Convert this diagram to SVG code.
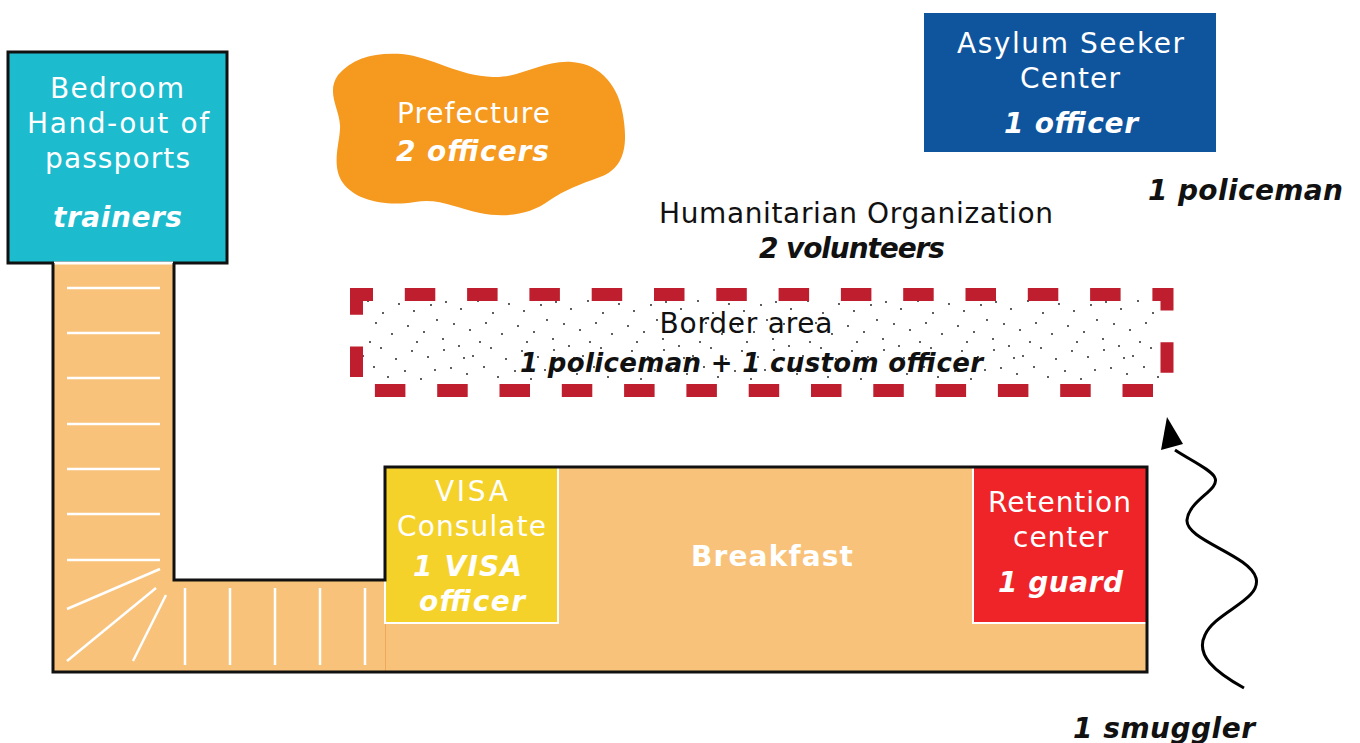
<svg xmlns="http://www.w3.org/2000/svg" width="1360" height="743" viewBox="0 0 1360 743">
<defs>
<style>
.t{font-family:"DejaVu Sans",Verdana,"Liberation Sans",sans-serif;font-size:28px;text-anchor:middle}
.bi{font-weight:bold;font-style:italic}
.bo{font-weight:bold}
.w{fill:#ffffff}
.k{fill:#111111}
.stair{stroke:#ffffff;stroke-width:2.5;fill:none}
</style>
<pattern id="dots" width="110" height="86" patternUnits="userSpaceOnUse">
<g fill="#111">
<circle cx="4" cy="6" r="0.9"/><circle cx="19" cy="2" r="0.9"/><circle cx="33" cy="12" r="0.9"/>
<circle cx="51" cy="4" r="0.9"/><circle cx="66" cy="15" r="0.9"/><circle cx="82" cy="7" r="0.9"/>
<circle cx="98" cy="13" r="0.9"/><circle cx="11" cy="24" r="0.9"/><circle cx="27" cy="30" r="0.9"/>
<circle cx="44" cy="23" r="0.9"/><circle cx="58" cy="33" r="0.9"/><circle cx="75" cy="27" r="0.9"/>
<circle cx="91" cy="35" r="0.9"/><circle cx="105" cy="26" r="0.9"/><circle cx="6" cy="44" r="0.9"/>
<circle cx="21" cy="51" r="0.9"/><circle cx="38" cy="43" r="0.9"/><circle cx="53" cy="55" r="0.9"/>
<circle cx="69" cy="46" r="0.9"/><circle cx="84" cy="53" r="0.9"/><circle cx="101" cy="47" r="0.9"/>
<circle cx="14" cy="66" r="0.9"/><circle cx="30" cy="72" r="0.9"/><circle cx="46" cy="65" r="0.9"/>
<circle cx="62" cy="76" r="0.9"/><circle cx="78" cy="68" r="0.9"/><circle cx="94" cy="74" r="0.9"/>
<circle cx="3" cy="81" r="0.9"/><circle cx="40" cy="84" r="0.9"/><circle cx="87" cy="84" r="0.9"/>
<circle cx="107" cy="62" r="0.9"/><circle cx="24" cy="14" r="0.9"/>
</g>
</pattern>
</defs>
<rect width="1360" height="743" fill="#ffffff"/>

<g id="bedroom">
<rect x="8" y="52" width="219" height="211" fill="#1DBBCE" stroke="#111" stroke-width="3"/>
<text class="t w" x="117" y="98" textLength="134" lengthAdjust="spacing">Bedroom</text>
<text class="t w" x="118" y="133" textLength="182" lengthAdjust="spacing">Hand-out of</text>
<text class="t w" x="117.5" y="168" textLength="145" lengthAdjust="spacing">passports</text>
<text class="t w bi" x="117.5" y="227" textLength="129" lengthAdjust="spacing">trainers</text>
</g>

<g id="corridor">
<path d="M53,263 L53,672 L1147,672 L1147,467 L385,467 L385,580 L174,580 L174,263 Z" fill="#F8C27A"/>
<line x1="54" y1="263" x2="173" y2="263" stroke="#ffffff" stroke-width="3"/>
<g class="stair">
<line x1="67" y1="288" x2="160" y2="288"/>
<line x1="67" y1="333" x2="160" y2="333"/>
<line x1="67" y1="378" x2="160" y2="378"/>
<line x1="67" y1="424" x2="160" y2="424"/>
<line x1="67" y1="469" x2="160" y2="469"/>
<line x1="67" y1="514" x2="160" y2="514"/>
<line x1="67" y1="560" x2="160" y2="560"/>
<line x1="67" y1="609" x2="160" y2="569"/>
<line x1="67" y1="661" x2="156" y2="588"/>
<line x1="133" y1="661" x2="166" y2="595"/>
<line x1="185" y1="588" x2="185" y2="665"/>
<line x1="230" y1="588" x2="230" y2="665"/>
<line x1="275" y1="588" x2="275" y2="665"/>
<line x1="320" y1="588" x2="320" y2="665"/>
<line x1="365" y1="588" x2="365" y2="665"/>
</g>
<line x1="385.5" y1="623" x2="385.5" y2="671" stroke="#EFA95A" stroke-width="1"/>
</g>

<g id="visa">
<rect x="385" y="467" width="173" height="156" fill="#F5D22A" stroke="#ffffff" stroke-width="2"/>
<text class="t w" x="471.5" y="501" textLength="73" lengthAdjust="spacing">VISA</text>
<text class="t w" x="471.5" y="536" textLength="149" lengthAdjust="spacing">Consulate</text>
<text class="t w bi" x="467.5" y="576" textLength="109" lengthAdjust="spacing">1 VISA</text>
<text class="t w bi" x="472" y="611" textLength="106" lengthAdjust="spacing">officer</text>
</g>

<g id="retention">
<rect x="973" y="467" width="174" height="156" fill="#EE2428" stroke="#ffffff" stroke-width="2"/>
<text class="t w" x="1059.5" y="512" textLength="143" lengthAdjust="spacing">Retention</text>
<text class="t w" x="1060.5" y="547" textLength="95" lengthAdjust="spacing">center</text>
<text class="t w bi" x="1060.5" y="592" textLength="125" lengthAdjust="spacing">1 guard</text>
</g>

<g id="breakfast">
<path d="M53,263 L53,672 L1147,672 L1147,467 L385,467 L385,580 L174,580 L174,263" fill="none" stroke="#111" stroke-width="3" stroke-linejoin="miter"/>
<text class="t w bo" x="772" y="566" textLength="162" lengthAdjust="spacing">Breakfast</text>
</g>

<g id="prefecture">
<path d="M338,75 C352,58 375,52 402,54 C432,57 458,76 493,77 C522,78 542,60 572,62 C602,64 619,88 623,115 C628,145 625,168 600,177 C578,185 565,190 550,200 C530,215 505,218 480,213 C455,208 440,198 415,202 C385,207 355,200 343,183 C330,165 341,140 340,125 C339,108 326,92 338,75 Z" fill="#F6991F"/>
<text class="t w" x="473.5" y="123" textLength="153" lengthAdjust="spacing">Prefecture</text>
<text class="t w bi" x="472.5" y="161" textLength="153" lengthAdjust="spacing">2 officers</text>
</g>

<g id="asylum">
<rect x="924" y="13" width="292" height="139" fill="#0F559E"/>
<text class="t w" x="1070.5" y="53" textLength="227" lengthAdjust="spacing">Asylum Seeker</text>
<text class="t w" x="1070" y="88" textLength="100" lengthAdjust="spacing">Center</text>
<text class="t w bi" x="1071" y="133" textLength="134" lengthAdjust="spacing">1 officer</text>
</g>

<g id="policeman">
<text class="t k bi" x="1245.5" y="200" textLength="195" lengthAdjust="spacing">1 policeman</text>
</g>

<g id="humanitarian">
<text class="t k" x="856" y="223" textLength="394" lengthAdjust="spacing">Humanitarian Organization</text>
<text class="t k bi" x="852" y="258" textLength="186" lengthAdjust="spacing">2 volunteers</text>
</g>

<g id="border">
<rect x="362" y="300" width="799" height="85" fill="url(#dots)"/>
<rect x="356.5" y="294.5" width="810.5" height="96" fill="none" stroke="#BE1E2D" stroke-width="13" stroke-dasharray="30.5 31.8" stroke-dashoffset="14"/>
<text class="t k" x="746" y="333" textLength="173" lengthAdjust="spacing">Border area</text>
<text class="t k bi" x="751.5" y="372" style="font-size:26px" textLength="463" lengthAdjust="spacing">1 policeman + 1 custom officer</text>
</g>

<g id="smuggler">
<text class="t k bi" x="1164" y="738" textLength="182" lengthAdjust="spacing">1 smuggler</text>
</g>

<g id="connectors">
<path d="M1244,688 C1215,672 1195,655 1205,635 C1215,612 1262,600 1256,578 C1250,555 1185,540 1187,520 C1189,500 1220,490 1215,478 C1212,470 1190,460 1175,450" fill="none" stroke="#000" stroke-width="3"/>
<polygon points="1167,417 1161,450 1183,444" fill="#000"/>
</g>
</svg>
